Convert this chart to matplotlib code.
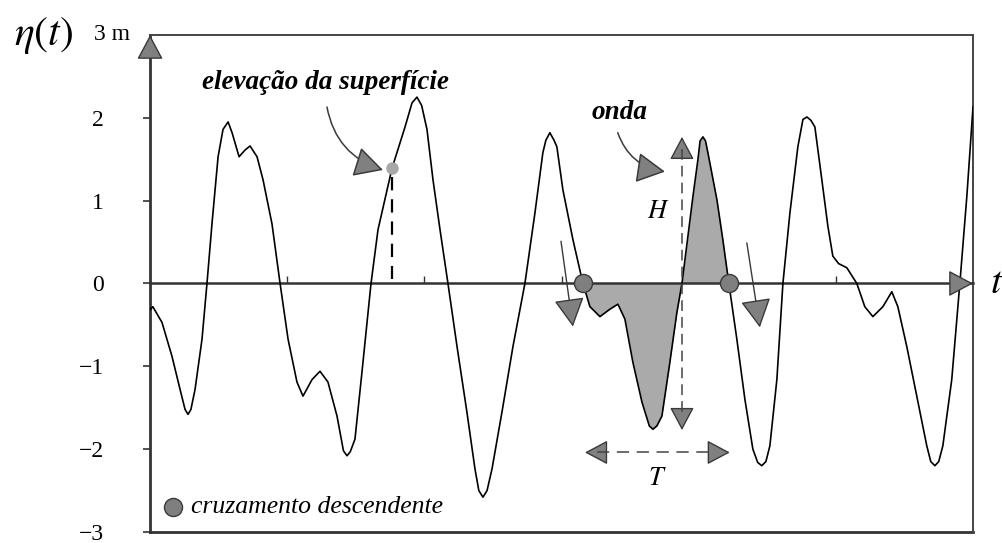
import matplotlib.pyplot as plt

plt.rcParams['font.family'] = ['Liberation Serif', 'DejaVu Serif']
plt.rcParams['mathtext.fontset'] = 'stix'

# surface elevation record (time in s, eta in m)
t = [0.0, 0.2, 0.87, 1.60, 2.19, 2.55, 2.77, 2.98, 3.28, 3.79, 4.15, 4.52,
     4.96, 5.32, 5.69, 5.98, 6.49, 6.92, 7.29, 7.80, 8.24, 8.89, 9.48, 10.06,
     10.71, 11.15, 11.81, 12.39, 12.97, 13.63, 14.10, 14.36, 14.60, 14.94,
     15.45, 15.82, 16.11, 16.62, 17.64, 18.59, 19.10, 19.46, 19.80, 20.19,
     20.63, 21.14, 21.72, 22.38, 23.10, 23.69, 23.97, 24.27, 24.57, 24.93,
     25.66, 26.46, 27.33, 28.06, 28.64, 28.86, 29.15, 29.45, 29.66, 30.10,
     30.83, 31.56, 32.07, 32.80, 33.53, 34.11, 34.62, 35.20, 35.86, 36.40,
     36.66, 36.95, 37.32, 37.90, 38.41, 38.78, 39.58, 39.94, 40.10, 40.31,
     40.50, 40.67, 41.33, 41.76, 42.20, 42.78, 43.37, 43.95, 44.30, 44.60,
     44.90, 45.19, 45.70, 46.14, 46.65, 47.23, 47.60, 47.89, 48.18, 48.47,
     48.98, 49.42, 49.78, 50.20, 50.80, 51.53, 52.11, 52.70, 53.43, 54.08,
     54.52, 55.17, 55.90, 56.63, 56.92, 57.22, 57.50, 57.80, 58.45, 59.04,
     59.55, 60.0]
eta = [-0.32, -0.28, -0.47, -0.88, -1.28, -1.52, -1.58, -1.52, -1.28, -0.67,
       0.0, 0.73, 1.53, 1.86, 1.95, 1.82, 1.53, 1.61, 1.66, 1.53, 1.25, 0.72,
       0.0, -0.67, -1.19, -1.36, -1.16, -1.06, -1.19, -1.60, -2.02, -2.08,
       -2.03, -1.88, -1.07, -0.47, 0.0, 0.65, 1.39, 1.89, 2.18, 2.25, 2.15,
       1.86, 1.25, 0.65, 0.0, -0.76, -1.55, -2.24, -2.50, -2.58, -2.50, -2.24,
       -1.55, -0.76, 0.0, 0.85, 1.58, 1.73, 1.82, 1.73, 1.65, 1.13, 0.53, 0.0,
       -0.28, -0.40, -0.31, -0.25, -0.43, -0.95, -1.43, -1.72, -1.76, -1.72,
       -1.60, -0.95, -0.35, 0.0, 1.05, 1.49, 1.72, 1.77, 1.72, 1.58, 1.01,
       0.53, 0.0, -0.67, -1.40, -2.00, -2.16, -2.20, -2.15, -1.96, -1.16, 0.0,
       0.85, 1.65, 1.98, 2.01, 1.97, 1.89, 1.25, 0.69, 0.33, 0.24, 0.19, 0.0,
       -0.28, -0.40, -0.28, -0.10, -0.28, -0.76, -1.36, -1.96, -2.15, -2.20,
       -2.15, -1.96, -1.16, 0.0, 1.05, 2.13]

down_cross = [31.56, 42.20]      # zero down-crossings bounding the wave
elev_point = (17.64, 1.39)
H_time = 38.78
crest, trough = 1.77, -1.77
T_level = -2.04

HEAD_FC = '#808080'
HEAD_EC = '#3a3a3a'


def arrow(ax, tip, tail, ms=30, rad=0.0, lw=1.0):
    ax.annotate('', xy=tip, xytext=tail, annotation_clip=False,
                arrowprops=dict(arrowstyle='-|>,head_length=0.6,head_width=0.32',
                                mutation_scale=ms, fc=HEAD_FC, ec=HEAD_EC, lw=lw,
                                shrinkA=0, shrinkB=0,
                                connectionstyle=f'arc3,rad={rad}'))


fig = plt.figure(figsize=(10.03, 5.43), dpi=100)
ax = fig.add_axes([0.1496, 0.0203, 0.8205, 0.9153])

ax.plot(t, eta, color='black', lw=1.2, zorder=3)

# shaded wave between the two down-crossings
mask = [down_cross[0] <= ti <= down_cross[1] for ti in t]
ax.fill_between(t, eta, 0, where=mask, color='#aaaaaa', lw=0, zorder=2)

ax.set_xlim(0, 60)
ax.set_ylim(-3, 3)

# axes: zero line carries the t ticks, box drawn around
ax.spines['bottom'].set_position(('data', 0))
ax.spines['bottom'].set_linewidth(1.8)
ax.spines['bottom'].set_color('#333333')
ax.spines['left'].set_linewidth(2.0)
ax.spines['left'].set_color('#333333')
for s in ['top', 'right']:
    ax.spines[s].set_linewidth(1.4)
    ax.spines[s].set_color('#444444')
ax.axhline(-3, color='#333333', lw=2.0, clip_on=False)

ax.set_xticks([10, 20, 30, 40, 50])
ax.tick_params(axis='x', direction='in', length=5, width=1, labelbottom=False,
               color='#333333')
ax.set_yticks([-3, -2, -1, 0, 1, 2])
ax.set_yticklabels(['\u22123', '\u22122', '\u22121', '0', '1', '2'])
ax.tick_params(axis='y', direction='out', length=5, width=1.2, pad=28,
               labelsize=17, color='#333333')

# axis arrows
arrow(ax, (0, 3.0), (0, 2.75), ms=26)
arrow(ax, (60, 0), (58.6, 0), ms=26)

fig.text(0.043, 0.935, r'$\eta\left(t\right)$', fontsize=30, ha='center', va='center')
ax.text(-2.75, 3.0, '3 m', fontsize=17, ha='center', va='center', clip_on=False)
ax.text(61.7, 0.0, r'$t$', fontsize=28, ha='center', va='center', clip_on=False)

# surface elevation annotation
ax.plot([elev_point[0], elev_point[0]], [1.28, 0.05], color='black', lw=1.6,
        ls=(0, (6, 4)), zorder=3)
ax.plot(*elev_point, 'o', ms=9, color='#a8a8a8', mec='none', zorder=4)
ax.text(12.76, 2.43, 'elevação da superfície', fontsize=19.5, fontweight='bold',
        style='italic', ha='center', va='center')
arrow(ax, (16.98, 1.37), (12.9, 2.13), ms=30, rad=0.3, lw=1.1)

# wave annotation
ax.text(34.26, 2.06, 'onda', fontsize=19.5, fontweight='bold', style='italic',
        ha='center', va='center')
arrow(ax, (37.54, 1.35), (34.1, 1.82), ms=30, rad=0.3, lw=1.1)

# down-crossing arrows and markers
arrow(ax, (30.83, -0.52), (29.96, 0.51), ms=30)
arrow(ax, (44.46, -0.53), (43.51, 0.49), ms=30)
ax.plot(down_cross, [0, 0], 'o', ms=13, color='#7f7f7f', mec='#3a3a3a',
        mew=1, zorder=5)

# wave height H
ax.plot([H_time, H_time], [crest - 0.15, trough + 0.15], color='#444444',
        lw=1.1, ls=(0, (7, 4)), zorder=4)
arrow(ax, (H_time, crest), (H_time, crest - 0.2), ms=24)
arrow(ax, (H_time, trough), (H_time, trough + 0.2), ms=24)
ax.text(37.03, 0.86, r'$H$', fontsize=19, ha='center', va='center')

# wave period T
ax.plot([down_cross[0] + 1.0, down_cross[1] - 1.0], [T_level, T_level],
        color='#444444', lw=1.1, ls=(0, (8, 5)), zorder=4)
arrow(ax, (down_cross[0] + 0.15, T_level), (down_cross[0] + 1.2, T_level), ms=24)
arrow(ax, (down_cross[1] + 0.07, T_level), (down_cross[1] - 1.0, T_level), ms=24)
ax.text(36.95, -2.36, r'$T$', fontsize=19, ha='center', va='center')

# legend
ax.plot(1.68, -2.70, 'o', ms=13, color='#7f7f7f', mec='#3a3a3a', mew=1)
ax.text(3.0, -2.70, 'cruzamento descendente', fontsize=18.5, style='italic',
        ha='left', va='center')

fig.savefig('out.png', dpi=100)
